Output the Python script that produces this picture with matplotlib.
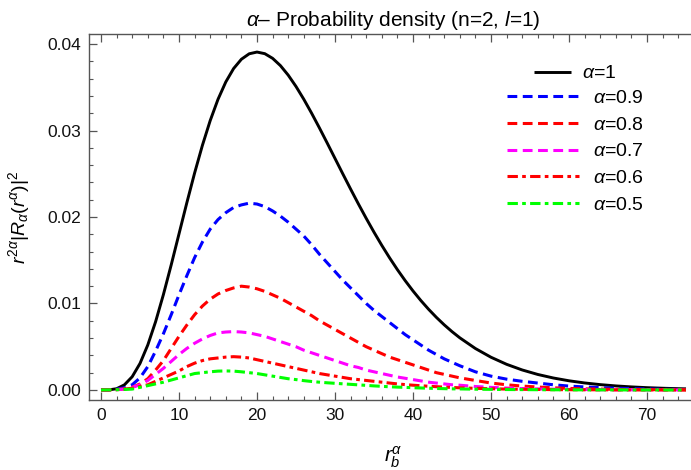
import matplotlib
matplotlib.use("Agg")
import matplotlib.pyplot as plt
from matplotlib.ticker import MultipleLocator, FormatStrFormatter

plt.rcParams['font.family'] = ['Liberation Sans', 'DejaVu Sans']
plt.rcParams['mathtext.fontset'] = 'custom'
plt.rcParams['mathtext.rm'] = 'Liberation Sans'
plt.rcParams['mathtext.it'] = 'Liberation Sans:italic'

# sample positions along r_b^alpha
r = list(range(0, 46)) + [46, 48, 50, 52, 54, 56, 58, 60, 62, 64, 66, 68, 70, 72, 74, 75]

# values
a10 = [0, 0.0000109, 0.000143, 0.000593, 0.001534, 0.003066, 0.005205, 0.007894,
       0.011027, 0.014461, 0.018045, 0.021630, 0.025082, 0.028284, 0.031148,
       0.033606, 0.035617, 0.037165, 0.038242, 0.038872, 0.039073, 0.038885,
       0.038346, 0.037507, 0.036405, 0.035093, 0.033613, 0.032004, 0.030306,
       0.028552, 0.026771, 0.024989, 0.023231, 0.021511, 0.019846, 0.018245,
       0.016720, 0.015274, 0.013913, 0.012638, 0.011450, 0.010348, 0.009330,
       0.008392, 0.007533, 0.006747,
       0.006032, 0.004794, 0.003783, 0.002967, 0.002313, 0.001793, 0.001383,
       0.001062, 0.000811, 0.000618, 0.000468, 0.000354, 0.000266, 0.000200,
       0.000149, 0.000129]
a09 = [0, 0.00002, 0.0001, 0.00025, 0.0006, 0.0014, 0.0027, 0.0045, 0.0065,
       0.0087, 0.0110, 0.0132, 0.0153, 0.0171, 0.0186, 0.0197, 0.0205, 0.0211,
       0.0214, 0.0216, 0.0215, 0.0212, 0.0207, 0.0201, 0.0194, 0.0186, 0.0178,
       0.0168, 0.0157, 0.0147, 0.0137, 0.0127, 0.0118, 0.0109, 0.0100, 0.0092,
       0.0085, 0.0078, 0.0071, 0.0064, 0.0058, 0.0052, 0.0046, 0.0041, 0.0036,
       0.0032,
       0.0028, 0.0021, 0.0016, 0.00125, 0.0010, 0.0008, 0.0006, 0.00045, 0.00035,
       0.00027, 0.0002, 0.00015, 0.00011, 0.00008, 0.00006, 0.00005]
a08 = [0, 0.00001, 0.00005, 0.00012, 0.0003, 0.0007, 0.0013, 0.0023, 0.0034,
       0.0048, 0.0062, 0.0075, 0.0087, 0.0097, 0.0105, 0.0111, 0.0115, 0.0118,
       0.0120, 0.0119, 0.0117, 0.0114, 0.0110, 0.0106, 0.0101, 0.0096, 0.0091,
       0.0086, 0.0080, 0.0075, 0.0070, 0.0065, 0.0060, 0.0055, 0.0050, 0.0046,
       0.0042, 0.0038, 0.0035, 0.0032, 0.0029, 0.0026, 0.0023, 0.0020, 0.0018,
       0.0016,
       0.0014, 0.0011, 0.0008, 0.0006, 0.00045, 0.00034, 0.00025, 0.00018,
       0.00013, 0.0001, 0.00007, 0.00005, 0.00004, 0.00003, 0.00002, 0.00002]
a07 = [0, 0.00001, 0.00004, 0.0001, 0.0003, 0.0006, 0.0011, 0.0018, 0.0025,
       0.0033, 0.0041, 0.0048, 0.0054, 0.0059, 0.0063, 0.0066, 0.0067, 0.00675,
       0.0067, 0.0066, 0.0064, 0.0062, 0.0059, 0.0056, 0.0053, 0.0050, 0.0046,
       0.0043, 0.0040, 0.0037, 0.0034, 0.0031, 0.0028, 0.0026, 0.0023, 0.0021,
       0.0019, 0.0017, 0.0015, 0.00135, 0.0012, 0.00105, 0.0009, 0.0008, 0.0007,
       0.0006,
       0.00055, 0.0004, 0.0003, 0.00022, 0.00016, 0.00012, 0.00009, 0.00006,
       0.00005, 0.00003, 0.00002, 0.00002, 0.00001, 0.00001, 0.00001, 0.00001]
a06 = [0, 0.00001, 0.00003, 0.0001, 0.0002, 0.0004, 0.0006, 0.0010, 0.0014,
       0.0018, 0.0022, 0.0027, 0.0031, 0.0034, 0.0036, 0.0037, 0.0038, 0.00385,
       0.0038, 0.0037, 0.0035, 0.0033, 0.0031, 0.0029, 0.0027, 0.0025, 0.0023,
       0.0021, 0.0019, 0.00175, 0.0016, 0.00145, 0.0013, 0.0012, 0.0011, 0.0010,
       0.0009, 0.0008, 0.0007, 0.00062, 0.00055, 0.00049, 0.00043, 0.00038,
       0.00033, 0.00029,
       0.00025, 0.00019, 0.00014, 0.0001, 0.00008, 0.00006, 0.00004, 0.00003,
       0.00002, 0.00002, 0.00001, 0.00001, 0.00001, 0.00001, 0.0, 0.0]
a05 = [0, 0.00001, 0.00003, 0.00006, 0.0001, 0.0003, 0.0005, 0.0007, 0.0009,
       0.00115, 0.0014, 0.00165, 0.0019, 0.0020, 0.0021, 0.00218, 0.0022,
       0.00218, 0.0021, 0.0020, 0.0019, 0.00175, 0.0016, 0.00145, 0.0013, 0.0012,
       0.00108, 0.00098, 0.0009, 0.00083, 0.00077, 0.00071, 0.00065, 0.00059,
       0.00053, 0.00047, 0.00042, 0.00037, 0.00033, 0.0003, 0.00026, 0.00023,
       0.0002, 0.00017, 0.00015, 0.00013,
       0.00012, 0.00009, 0.00007, 0.00005, 0.00004, 0.00003, 0.00002, 0.00002,
       0.00001, 0.00001, 0.00001, 0.0, 0.0, 0.0, 0.0, 0.0]

labels = [r'$\alpha$=1', r'$\alpha$=0.9', r'$\alpha$=0.8', r'$\alpha$=0.7',
          r'$\alpha$=0.6', r'$\alpha$=0.5']

fig = plt.figure(figsize=(6.91, 4.70), dpi=100)
# frame runs a little past the right edge of the picture, as in the reference
ax = fig.add_axes([89.3 / 691, 70 / 470, 608.4 / 691, 366 / 470])

dash = (3.2, 1.8)
dotdash = (3.4, 1.4, 1.2, 1.4)
series = [
    (a10, 'black', None, 2.1),
    (a09, '#0000ff', dash, 2.2),
    (a08, '#ff0000', dash, 2.2),
    (a07, '#ff00ff', dash, 2.2),
    (a06, '#ff0000', dotdash, 2.2),
    (a05, '#00ff00', dotdash, 2.2),
]
handles = []
for vals, col, ds, lw in series:
    ln, = ax.plot(r, vals, color=col, lw=lw, solid_capstyle='butt',
                  dash_capstyle='butt', solid_joinstyle='round')
    if ds is not None:
        ln.set_dashes(ds)
    handles.append(ln)

ax.set_xlim(-1.5, 76.5)
ax.set_ylim(-0.00116, 0.04116)
ax.xaxis.set_major_locator(MultipleLocator(10))
ax.xaxis.set_minor_locator(MultipleLocator(2))
ax.yaxis.set_major_locator(MultipleLocator(0.01))
ax.yaxis.set_minor_locator(MultipleLocator(0.002))
ax.yaxis.set_major_formatter(FormatStrFormatter('%.2f'))

frame = '#555555'
for s in ['left', 'bottom', 'top']:
    ax.spines[s].set_color(frame)
    ax.spines[s].set_linewidth(1.0)
ax.spines['right'].set_visible(False)
ax.tick_params(which='both', direction='in', top=True, right=False,
               color=frame, labelsize=12.5, labelcolor='#111111')
ax.tick_params(which='major', length=5.5, width=0.9, pad=6)
ax.tick_params(which='minor', length=3, width=0.8)

ax.set_title(r'$\alpha$– Probability density (n=2, $l$=1)', fontsize=15, pad=6)
ax.set_ylabel(r'$r^{2\alpha}|R_{\alpha}(r^{\alpha})|^{2}$', fontsize=14, labelpad=11)
ax.set_xlabel(r'$r_b^{\alpha}$', fontsize=15, labelpad=15)

leg1 = ax.legend(handles[:1], labels[:1], loc='upper left',
                 bbox_to_anchor=(534 / 691, 0.862), bbox_transform=fig.transFigure,
                 frameon=False, fontsize=14, handlelength=1.9, handletextpad=0.56,
                 borderpad=0, borderaxespad=0)
ax.add_artist(leg1)
ax.legend(handles[1:], labels[1:], loc='upper left',
          bbox_to_anchor=(507 / 691, 0.810), bbox_transform=fig.transFigure,
          frameon=False, fontsize=14, handlelength=3.7, handletextpad=0.72,
          borderpad=0, borderaxespad=0, labelspacing=0.47)

fig.savefig('out.png', dpi=100)
